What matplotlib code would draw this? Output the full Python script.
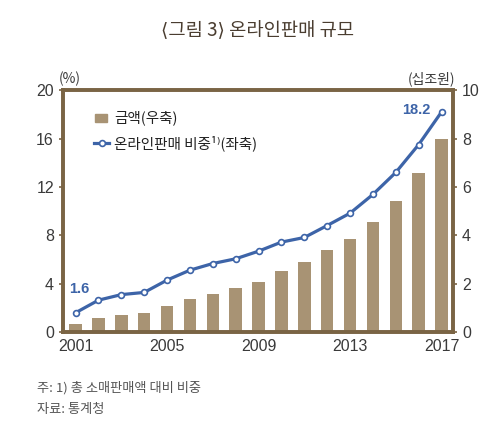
import numpy as np
import matplotlib.pyplot as plt

#######################################################################
# Online retail scale: amount (bars, right axis) and share (line, left)
#######################################################################

plt.rcParams['font.family'] = ['Noto Sans CJK KR', 'DejaVu Sans']

years = np.arange(2001, 2018)
amount_10tril = [0.33, 0.60, 0.71, 0.77, 1.07, 1.35, 1.58, 1.81, 2.06,
                 2.52, 2.91, 3.41, 3.85, 4.53, 5.41, 6.56, 8.00]   # [십조원]
share_pct = [1.6, 2.64, 3.1, 3.28, 4.3, 5.12, 5.67, 6.06, 6.69,
             7.44, 7.82, 8.81, 9.83, 11.38, 13.2, 15.5, 18.2]       # [%]
left_ticks = [0, 4, 8, 12, 16, 20]
right_ticks = [0, 2, 4, 6, 8, 10]
x_ticks = [2001, 2005, 2009, 2013, 2017]

frame_c = '#7a6444'
bar_c = '#a89374'
line_c = '#3d64a8'
text_c = '#3a3a3a'
num_font = ['Liberation Sans', 'DejaVu Sans']

fig = plt.figure(figsize=(5.0, 4.44), dpi=100)
ax = fig.add_axes([0.126, 0.252, 0.78, 0.545])
ax2 = ax.twinx()

# bars on right axis, drawn beneath line
ax2.bar(years, amount_10tril, width=0.55, color=bar_c, zorder=2)
ax2.set_ylim(0, 10)
ax2.set_yticks(right_ticks)

ax.set_zorder(ax2.get_zorder() + 1)
ax.patch.set_visible(False)
ax.plot(years, share_pct, color=line_c, lw=2.3, marker='o', ms=4.2,
        mfc='white', mec=line_c, mew=1.2, zorder=5)
ax.set_ylim(0, 20)
ax.set_yticks(left_ticks)
ax.set_xlim(2000.45, 2017.5)
ax.set_xticks(x_ticks)

for a in (ax, ax2):
    for s in a.spines.values():
        s.set_color(frame_c)
        s.set_linewidth(2.6)
    a.tick_params(colors=frame_c, labelcolor=text_c, labelsize=11.5,
                  length=3, width=1.2)
    for lab in a.get_xticklabels() + a.get_yticklabels():
        lab.set_family(num_font)
ax.tick_params(axis='x', length=0, pad=5)

# value labels
ax.text(years[0] + 0.17, share_pct[0] + 2.0, '1.6', color=line_c,
        fontsize=10.5, fontweight='bold', ha='center', va='center',
        family=num_font)
ax.text(years[-1] - 1.1, share_pct[-1] + 0.15, '18.2', color=line_c,
        fontsize=10.5, fontweight='bold', ha='center', va='center',
        family=num_font)

# legend drawn by hand
fig.add_artist(plt.Rectangle((0.19, 0.726), 0.024, 0.017,
                             transform=fig.transFigure, color=bar_c))
fig.text(0.228, 0.734, '금액(우축)', fontsize=10.5, color='#222222',
         va='center')
fig.add_artist(plt.Line2D([0.188, 0.203, 0.218], [0.678, 0.678, 0.678],
                          transform=fig.transFigure, color=line_c, lw=2.3,
                          marker='o', ms=4.2, mfc='white', mec=line_c,
                          mew=1.2, markevery=[1]))
fig.text(0.228, 0.678, '온라인판매 비중¹⁾(좌축)', fontsize=10.5,
         color='#222222', va='center')

# unit labels
fig.text(0.118, 0.822, '(%)', fontsize=10, color=text_c, ha='left',
         va='center')
fig.text(0.91, 0.822, '(십조원)', fontsize=10, color=text_c, ha='right',
         va='center')

# title and notes
fig.text(0.516, 0.932, '⟨그림 3⟩ 온라인판매 규모', fontsize=13.5,
         color='#4a3d30', ha='center', va='center')
fig.text(0.074, 0.126, '주: 1) 총 소매판매액 대비 비중', fontsize=9.5,
         color='#555555', va='center')
fig.text(0.074, 0.077, '자료: 통계청', fontsize=9.5, color='#555555',
         va='center')

fig.savefig('out.png', dpi=100)
